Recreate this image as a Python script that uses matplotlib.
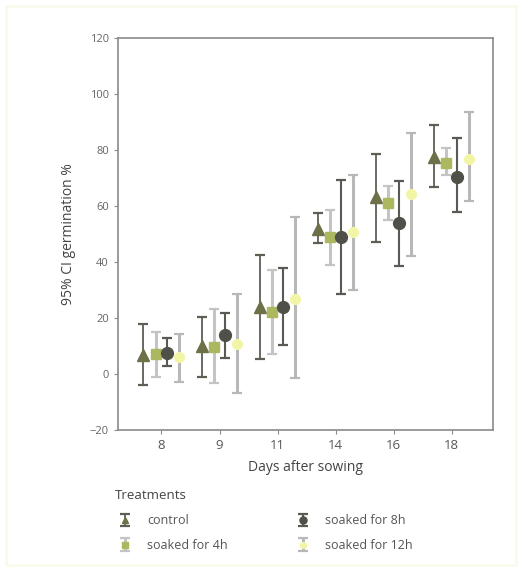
import matplotlib.pyplot as plt
import matplotlib.patches as patches
import numpy as np

plt.rcParams["font.family"] = ["Open Sans", "DejaVu Sans"]

days = ["8", "9", "11", "14", "16", "18"]
treatments = ["control", "soaked for 4h", "soaked for 8h", "soaked for 12h"]

# mean germination % and 95% CI bounds, per treatment, per day
control_mean = [6.8, 10.1, 24.0, 51.7, 63.3, 77.6]
control_low = [-3.9, -1.2, 5.2, 46.7, 47.3, 66.9]
control_high = [17.7, 20.5, 42.5, 57.4, 78.5, 88.9]

h4_mean = [7.1, 9.8, 22.3, 48.8, 61.2, 75.5]
h4_low = [-1.2, -3.3, 7.0, 38.9, 55.2, 71.0]
h4_high = [15.1, 23.1, 37.1, 58.6, 67.3, 80.6]

h8_mean = [7.4, 13.9, 24.0, 49.0, 54.0, 70.5]
h8_low = [2.9, 5.8, 10.4, 28.5, 38.6, 58.0]
h8_high = [12.7, 21.9, 38.0, 69.5, 68.9, 84.2]

h12_mean = [6.2, 10.7, 26.7, 50.8, 64.2, 77.0]
h12_low = [-2.7, -6.7, -1.5, 30.2, 42.3, 61.8]
h12_high = [14.3, 28.5, 56.2, 71.0, 86.0, 93.7]

series = [
    (control_mean, control_low, control_high),
    (h4_mean, h4_low, h4_high),
    (h8_mean, h8_low, h8_high),
    (h12_mean, h12_low, h12_high),
]

offsets = [-0.31, -0.1, 0.1, 0.3]
markers = ["^", "s", "o", "o"]
marker_colors = ["#6e7048", "#adb760", "#4f5148", "#f3f5a6"]
bar_colors = ["#5e5e55", "#c4c4c4", "#5a5a55", "#b8b8b8"]
bar_widths = [1.3, 2.2, 1.5, 2.2]
marker_sizes = [8, 6.5, 8.5, 7]

fig = plt.figure(figsize=(5.22, 5.71), dpi=100)
# faint scan border around the page
fig.patches.append(patches.Rectangle((0.012, 0.01), 0.976, 0.98, transform=fig.transFigure,
                                     fill=False, edgecolor="#fafaec", linewidth=2))
ax = fig.add_axes([0.226, 0.247, 0.718, 0.686])

x = np.arange(len(days))
handles = []
for i, (mean, low, high) in enumerate(series):
    mean = np.array(mean)
    yerr = [mean - np.array(low), np.array(high) - mean]
    h = ax.errorbar(x + offsets[i], mean, yerr=yerr, fmt=markers[i],
                    color=marker_colors[i], markersize=marker_sizes[i],
                    markeredgecolor=marker_colors[i], ecolor=bar_colors[i],
                    elinewidth=bar_widths[i], capsize=3.5, capthick=1.6,
                    label=treatments[i], zorder=3 + i)
    handles.append(h)

ax.set_xlim(-0.75, 5.71)
ax.set_ylim(-20, 120)
ax.set_xticks(x)
ax.set_xticklabels(days)
ax.set_yticks(np.arange(-20, 121, 20))
for s in ax.spines.values():
    s.set_color("#8a8a8a")
    s.set_linewidth(1.2)
ax.tick_params(colors="#8a8a8a", labelcolor="#666666", labelsize=8, length=3)
ax.tick_params(axis="x", labelsize=9.5, labelcolor="#555555")
ax.set_xlabel("Days after sowing", fontsize=10, color="#444444", labelpad=6)
ax.set_ylabel("95% CI germination %", fontsize=10, color="#444444", labelpad=10)

leg = fig.legend(handles=handles, labels=treatments, ncol=2, frameon=False,
                 loc="upper left", bbox_to_anchor=(0.21, 0.153),
                 title="Treatments", fontsize=9, title_fontsize=9.5,
                 columnspacing=5.2, handlelength=1.6, handletextpad=1.0,
                 labelcolor="#555555", borderaxespad=0, labelspacing=0.95,
                 markerscale=0.6)
leg._legend_box.align = "left"
leg._legend_box.sep = 9
leg.get_title().set_color("#444444")

fig.savefig("out.png", dpi=100, facecolor="white")
